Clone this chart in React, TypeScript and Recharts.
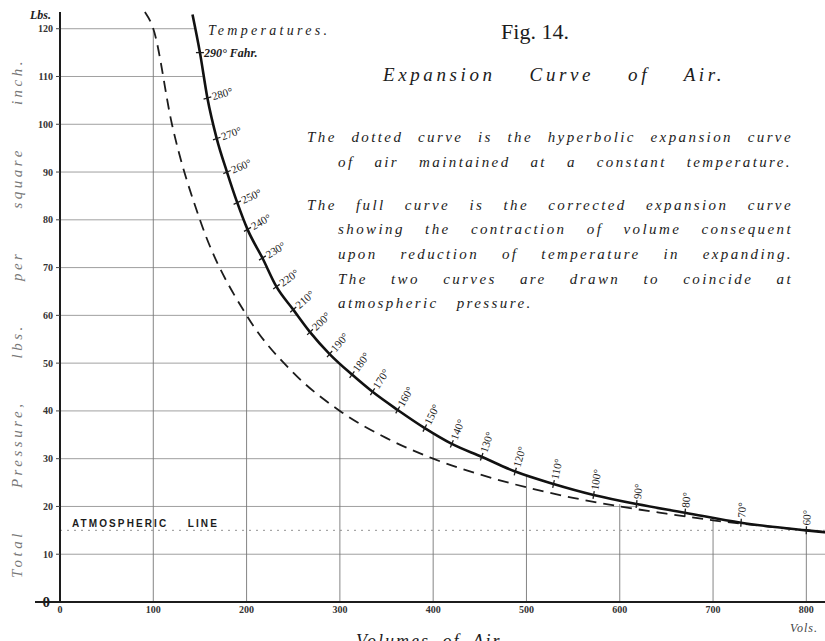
import React from "react";
import { ComposedChart, Line, XAxis, YAxis, ReferenceLine } from "recharts";

const VOL_TICKS = [0, 100, 200, 300, 400, 500, 600, 700, 800];
const PRESSURE_TICKS = [0, 10, 20, 30, 40, 50, 60, 70, 80, 90, 100, 110, 120];

// dotted curve (constant temperature)
const ISO_VOLUMES   = [91, 100, 120, 150, 200, 250, 300, 350, 400, 450, 500, 550, 600, 650, 700, 750, 800, 820];
const ISO_PRESSURES = [123.5, 120, 100, 80, 60, 48, 40, 34.3, 30, 26.7, 24, 21.8, 20, 18.5, 17.1, 16, 15, 14.6];

// full (corrected) curve, one point per temperature mark + both ends
const FULL_VOLUMES   = [142, 150, 158, 168, 179, 190, 201, 217, 232, 250, 268, 289, 313, 335, 362, 391, 420, 452, 488, 529, 572, 618, 670, 730, 800, 820];
const FULL_PRESSURES = [123, 115, 105.5, 97, 90, 83.6, 78, 72, 66, 61.2, 56.5, 51.9, 47.6, 44, 40.2, 36.4, 33.1, 30.4, 27.3, 24.7, 22.4, 20.5, 18.7, 16.6, 15, 14.6];
const FULL_TEMPS     = [null, 290, 280, 270, 260, 250, 240, 230, 220, 210, 200, 190, 180, 170, 160, 150, 140, 130, 120, 110, 100, 90, 80, 70, 60, null];

// where the ruled lines stop against the full curve
const GRID_VOLS      = [100, 200, 300, 400, 500, 600, 700, 800];
const GRID_VOL_TOPS  = [120, 79, 50, 35.5, 26.5, 20.5, 17.4, 15];
const GRID_PRESS     = [10, 20, 30, 40, 50, 60, 70, 80, 90, 100, 110, 120];
const GRID_PRESS_END = [820, 620, 455, 364, 299, 256, 221, 197, 179, 164, 153, 144];

const ATMOSPHERIC = 15;

const isoData = ISO_VOLUMES.map((v, i) => ({ v, p: ISO_PRESSURES[i] }));
const fullData = FULL_VOLUMES.map((v, i) => ({ v, p: FULL_PRESSURES[i], t: FULL_TEMPS[i] }));

const SERIF = "'Liberation Serif', 'DejaVu Serif', serif";
const INK = "#1c1c1c";

function TempMark(props: any) {
  const { cx, cy, index, points, payload } = props;
  if (payload == null || payload.t == null || cx == null) return <g key={`m${index}`} />;
  let dx: number, dy: number;
  if (points && points[index - 1] && points[index + 1]) {
    dx = points[index + 1].x - points[index - 1].x;
    dy = points[index + 1].y - points[index - 1].y;
  } else {
    const a = fullData[index - 1], b = fullData[index + 1];
    dx = (b.v - a.v) * 0.933;
    dy = -(b.p - a.p) * 4.775;
  }
  const tangent = (Math.atan2(dy, dx) * 180) / Math.PI;
  let rot = tangent - 90 - 5;
  if (rot < -90) rot = -90;
  const first = payload.t === 290;
  return (
    <g key={`m${index}`} transform={`translate(${cx},${cy}) rotate(${first ? 0 : rot})`}>
      <line x1={-4} x2={4} y1={0} y2={0} stroke={INK} strokeWidth={1.3} />
      <text x={first ? 4 : 5} y={0} dy="0.35em" fontFamily={SERIF} fontSize={first ? 12 : 11}
        fontStyle={first ? "italic" : "normal"} fontWeight={first ? "bold" : "normal"} fill={INK}>
        {first ? `${payload.t}° Fahr.` : `${payload.t}°`}
      </text>
    </g>
  );
}

function YTick(props: any) {
  const { x, y, payload } = props;
  if (payload.value === 0) {
    return (
      <g>
        <line x1={x - 18} x2={x + 8} y1={y} y2={y} stroke={INK} strokeWidth={2} />
        <text x={x - 3} y={y} dy="0.35em" textAnchor="end" fontFamily={SERIF} fontSize={15}
          fontWeight="bold" fill={INK}>0</text>
      </g>
    );
  }
  return (
    <text x={x} y={y} dy="0.35em" textAnchor="end" fontFamily={SERIF} fontSize={10}
      fontWeight="bold" fill="#333">{payload.value}</text>
  );
}

const lineStyle: React.CSSProperties = {
  position: "absolute",
  fontFamily: SERIF,
  fontStyle: "italic",
  fontSize: 15,
  letterSpacing: 2.4,
  color: INK,
  whiteSpace: "nowrap",
  textAlign: "justify",
  textAlignLast: "justify" as any,
  height: 20,
  lineHeight: "20px",
};

const plain: React.CSSProperties = { textAlign: "left", textAlignLast: "left" as any };

const NOTE_LINES = [
  { text: "The dotted curve is the hyperbolic expansion curve", left: 307, width: 486, y: 137 },
  { text: "of air maintained at a constant temperature.", left: 338, width: 454, y: 162 },
  { text: "The full curve is the corrected expansion curve", left: 307, width: 486, y: 205 },
  { text: "showing the contraction of volume consequent", left: 338, width: 455, y: 229 },
  { text: "upon reduction of temperature in expanding.", left: 338, width: 455, y: 254 },
  { text: "The two curves are drawn to coincide at", left: 338, width: 455, y: 279 },
];

export default function App() {
  return (
    <div style={{ position: "absolute", left: 0, top: 0, width: 825, height: 641, background: "#fff", overflow: "hidden" }}>
      <ComposedChart width={825} height={641} margin={{ top: 12, right: 0, bottom: 15, left: 0 }}>
        <XAxis type="number" dataKey="v" domain={[0, 820]} ticks={VOL_TICKS} height={24}
          axisLine={{ stroke: INK, strokeWidth: 2 }} tickLine={false} tickSize={2}
          tick={{ fontFamily: SERIF, fontSize: 10, fontWeight: "bold", fill: "#333" }} />
        <YAxis type="number" dataKey="p" domain={[0, 123.5]} ticks={PRESSURE_TICKS} width={60}
          axisLine={{ stroke: INK, strokeWidth: 2 }} tickLine={{ stroke: "#444" }} tickSize={4}
          tickMargin={3} tick={<YTick />} />

        {GRID_VOLS.map((v, i) => (
          <ReferenceLine key={`gv${v}`} segment={[{ x: v, y: 0 }, { x: v, y: GRID_VOL_TOPS[i] }]}
            stroke="#666" strokeWidth={0.8} />
        ))}
        {GRID_PRESS.map((p, i) => (
          <ReferenceLine key={`gh${p}`} segment={[{ x: 0, y: p }, { x: GRID_PRESS_END[i], y: p }]}
            stroke="#777" strokeWidth={0.7} />
        ))}

        <ReferenceLine y={ATMOSPHERIC} stroke="#888" strokeWidth={0.9} strokeDasharray="2 5"
          label={(lp: any) => (
            <text x={lp.viewBox.x + 12} y={lp.viewBox.y - 3} fontFamily="'Liberation Sans', Arial, sans-serif"
              fontSize={10} fontWeight="bold" letterSpacing={2.1} fill={INK}>
              ATMOSPHERIC{"\u00a0\u00a0\u00a0\u00a0"}LINE
            </text>
          )} />

        <Line data={isoData} dataKey="p" type="monotone" stroke={INK} strokeWidth={1.8}
          strokeDasharray="11 7" dot={false} activeDot={false} isAnimationActive={false} />
        <Line data={fullData} dataKey="p" type="monotone" stroke="#111" strokeWidth={2.6}
          dot={<TempMark />} activeDot={false} isAnimationActive={false} />
      </ComposedChart>

      {/* headings and notes */}
      <div style={{ position: "absolute", left: 470, top: 18, width: 130, textAlign: "center",
        fontFamily: SERIF, fontSize: 22, lineHeight: "28px", color: INK }}>Fig. 14.</div>
      <div style={{ ...lineStyle, left: 383, width: 342, top: 63, fontSize: 19, letterSpacing: 3.6, height: 24, lineHeight: "24px" }}>
        Expansion Curve of Air.
      </div>
      {NOTE_LINES.map((l) => (
        <div key={l.text} style={{ ...lineStyle, left: l.left, width: l.width, top: l.y - 10 }}>{l.text}</div>
      ))}
      <div style={{ ...lineStyle, ...plain, left: 338, top: 293, wordSpacing: 12 }}>
        atmospheric pressure.
      </div>

      <div style={{ ...lineStyle, ...plain, left: 208, top: 21, fontSize: 14, letterSpacing: 3.3 }}>Temperatures.</div>
      <div style={{ ...lineStyle, ...plain, left: 30, top: 5, fontSize: 12, fontWeight: "bold", letterSpacing: 0 }}>Lbs.</div>
      <div style={{ ...lineStyle, ...plain, left: 790, top: 618, fontSize: 12, letterSpacing: 1, color: "#444" }}>Vols.</div>
      <div style={{ ...lineStyle, left: 356, width: 150, top: 629, fontSize: 18, letterSpacing: 2, height: 24, lineHeight: "24px" }}>
        Volumes of Air.
      </div>

      {/* axis title, turned up the left side */}
      <div style={{ ...lineStyle, left: 17 - 260, width: 520, top: 318 - 10, transform: "rotate(-90deg)",
        color: "#777", letterSpacing: 3.5 }}>
        Total Pressure, lbs. per square inch.
      </div>
    </div>
  );
}
